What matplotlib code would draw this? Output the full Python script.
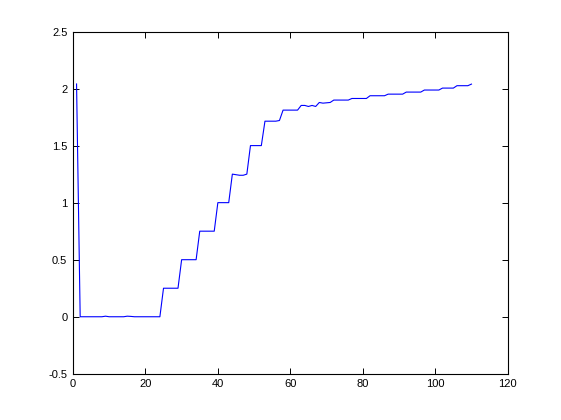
import numpy as np
import matplotlib
matplotlib.use("Agg")
import matplotlib.pyplot as plt

# samples are indexed 1..110 (one value per index)
x = np.arange(1, 111)
y = np.array(
    [2.04]
    + [0, 0, 0, 0, 0, 0, 0, 0.005, 0, 0, 0, 0, 0, 0.005, 0.003, 0, 0, 0, 0, 0, 0, 0, 0]  # 2..24
    + [0.25] * 5            # 25..29
    + [0.5] * 5             # 30..34
    + [0.75] * 5            # 35..39
    + [1.0] * 4             # 40..43
    + [1.25, 1.245, 1.24, 1.24, 1.25]   # 44..48
    + [1.5] * 4             # 49..52
    + [1.714, 1.714, 1.714, 1.714, 1.72]  # 53..57
    + [1.811] * 5           # 58..62
    + [1.852, 1.852, 1.843, 1.852, 1.843, 1.878, 1.872, 1.875, 1.878]  # 63..71
    + [1.899] * 5           # 72..76
    + [1.913] * 5           # 77..81
    + [1.937] * 5           # 82..86
    + [1.951] * 5           # 87..91
    + [1.969] * 5           # 92..96
    + [1.987] * 5           # 97..101
    + [2.004] * 4           # 102..105
    + [2.025] * 4           # 106..109
    + [2.039]               # 110
)

xticks = [0, 20, 40, 60, 80, 100, 120]
yticks = [-0.5, 0, 0.5, 1, 1.5, 2, 2.5]
ytick_labels = ['-0.5', '0', '0.5', '1', '1.5', '2', '2.5']

plt.rcParams['font.family'] = ['Liberation Sans', 'DejaVu Sans']
fig = plt.figure(figsize=(5.61, 4.2), dpi=100)
ax = fig.add_axes([0.13, 0.11, 0.775, 0.815])

ax.plot(x, y, color='#0000ff', linewidth=0.8)

ax.set_xlim(0, 120)
ax.set_ylim(-0.5, 2.5)
ax.set_xticks(xticks)
ax.set_yticks(yticks)
ax.set_yticklabels(ytick_labels)
ax.tick_params(direction='in', length=4, width=0.7, labelsize=8, pad=4,
               top=True, right=True)
for s in ax.spines.values():
    s.set_linewidth(0.8)

fig.savefig('out.png', dpi=100)
